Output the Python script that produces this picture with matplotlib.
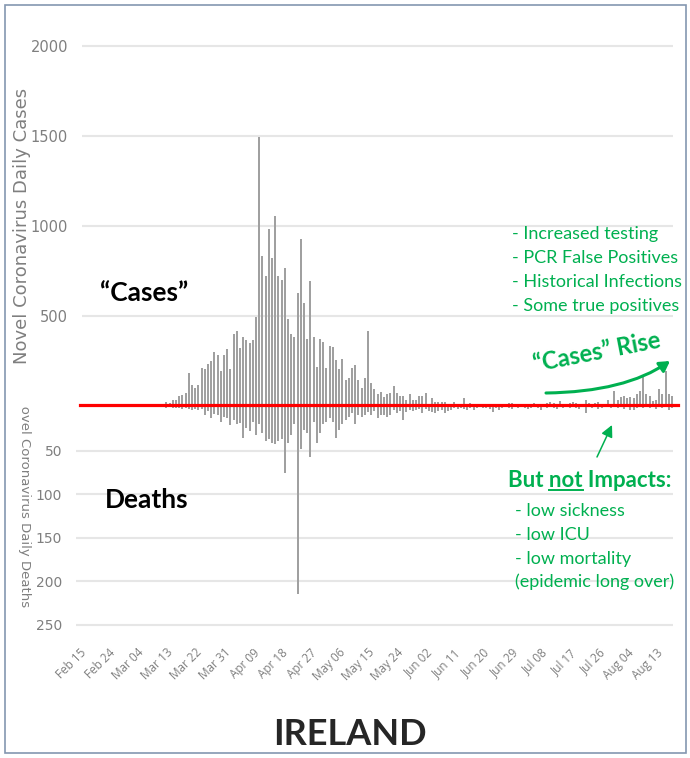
import datetime as dt
import matplotlib
matplotlib.use("Agg")
import matplotlib.pyplot as plt
from matplotlib.transforms import Affine2D, Bbox, TransformedBbox
from matplotlib.patches import FancyArrowPatch, Rectangle
from matplotlib.path import Path
from matplotlib.lines import Line2D

# ---------------- data ----------------
axis_start = "2020-02-15"
series_start = "2020-03-13"

cases = [21, 15, 34, 34, 53, 62, 71, 184, 119, 101,
         119, 212, 203, 231, 249, 299, 286, 197, 286, 318,
         203, 401, 419, 323, 382, 364, 351, 364, 493, 1497,
         832, 721, 982, 823, 1056, 721, 701, 768, 481, 401,
         382, 627, 927, 571, 371, 692, 382, 216, 372, 354,
         213, 336, 327, 258, 203, 262, 142, 157, 212, 230,
         142, 101, 157, 419, 129, 92, 64, 80, 50, 66,
         75, 112, 74, 54, 54, 35, 64, 35, 35, 54,
         54, 72, 10, 45, 24, 20, 20, 20, 6, 8,
         20, 6, 8, 45, 12, 16, 8, 10, 6, 9,
         10, 10, 6, 8, 9, 5, 8, 18, 18, 8,
         6, 9, 7, 10, 8, 18, 9, 7, 10, 18,
         21, 18, 9, 27, 10, 8, 18, 21, 18, 9,
         10, 34, 18, 8, 18, 25, 9, 11, 34, 10,
         82, 36, 49, 53, 45, 49, 45, 68, 86, 169,
         64, 58, 27, 36, 92, 64, 192, 64, 58]

deaths = [1, 0, 1, 1, 1, 2, 1, 2, 3, 2,
          3, 2, 9, 5, 13, 8, 9, 17, 11, 13,
          21, 15, 19, 18, 36, 24, 27, 17, 32, 20,
          30, 39, 37, 41, 43, 39, 37, 76, 41, 32,
          20, 214, 48, 26, 30, 57, 17, 41, 30, 20,
          17, 13, 17, 36, 26, 20, 15, 11, 7, 19,
          9, 11, 9, 6, 9, 5, 13, 9, 9, 11,
          9, 4, 7, 5, 15, 6, 3, 5, 4, 2,
          7, 2, 5, 6, 7, 5, 3, 7, 5, 3,
          1, 2, 1, 2, 3, 1, 3, 1, 0, 1,
          1, 2, 6, 1, 4, 1, 0, 1, 2, 0,
          1, 0, 1, 2, 1, 0, 1, 4, 0, 1,
          0, 1, 2, 0, 1, 0, 1, 0, 1, 2,
          0, 7, 0, 1, 0, 2, 1, 0, 0, 1,
          0, 1, 0, 2, 0, 4, 4, 1, 0, 1,
          0, 1, 0, 2, 0, 1, 0, 3, 1]

tick_labels = ["Feb 15", "Feb 24", "Mar 04", "Mar 13", "Mar 22", "Mar 31",
               "Apr 09", "Apr 18", "Apr 27", "May 06", "May 15", "May 24",
               "Jun 02", "Jun 11", "Jun 20", "Jun 29", "Jul 08", "Jul 17",
               "Jul 26", "Aug 04", "Aug 13"]
case_ticks = [500, 1000, 1500, 2000]
death_ticks = [50, 100, 150, 200, 250]

list_top = ["- Increased testing", "- PCR False Positives",
            "- Historical Infections", "- Some true positives"]
list_bottom = ["- low sickness", "- low ICU", "- low mortality",
               "(epidemic long over)"]

# ---------------- helpers ----------------
W, H = 690, 758
fig = plt.figure(figsize=(W / 100, H / 100), dpi=100)
fig.patch.set_facecolor("white")
PX = Affine2D().scale(1 / W, -1 / H).translate(0, 1) + fig.transFigure


def rect(l, t, r, b):
    return [l / W, 1 - b / H, (r - l) / W, (b - t) / H]


d0 = dt.date.fromisoformat(axis_start)
s0 = (dt.date.fromisoformat(series_start) - d0).days
xs = [s0 + i for i in range(len(cases))]
tick_pos = [(dt.datetime.strptime(t + " 2020", "%b %d %Y").date() - d0).days
            for t in tick_labels]

X0, SX = 80.0, 3.2      # pixel of day 0, pixels per day
CY = 0.18               # px per case
DY = 0.872              # px per death

BAR = "#a0a0a0"
GRID = "#e6e6e6"
GRAY = "#7f7f7f"
GREEN = "#00b050"
ANN = ["Lato", "DejaVu Sans"]
NARROW = ["Liberation Sans Narrow", "DejaVu Sans"]

# ---------------- cases axes ----------------
c_top, c_bot, c_l, c_r = 38, 406, 82, 673
axc = fig.add_axes(rect(c_l, c_top, c_r, c_bot))
axc.bar(xs, cases, width=0.65, color=BAR, zorder=2)
axc.set_xlim((c_l - X0) / SX, (c_r - X0) / SX)
axc.set_ylim(0, (c_bot - c_top) / CY)
axc.set_yticks(case_ticks)
axc.set_yticklabels([str(v) for v in case_ticks], family=NARROW,
                    fontsize=10.5, color=GRAY)
axc.set_xticks([])
axc.grid(axis="y", color=GRID, linewidth=1.5, zorder=0)
axc.tick_params(axis="y", length=0, pad=10)
for s in axc.spines.values():
    s.set_visible(False)
axc.set_facecolor("none")

# ---------------- deaths axes ----------------
d_top, d_bot, d_l, d_r = 407, 642, 76, 673
axd = fig.add_axes(rect(d_l, d_top, d_r, d_bot))
axd.bar(xs, deaths, width=0.65, color=BAR, zorder=2)
axd.set_xlim((d_l - X0) / SX, (d_r - X0) / SX)
axd.set_ylim((d_bot - d_top) / DY, 0)
axd.set_yticks(death_ticks)
axd.set_yticklabels([str(v) for v in death_ticks], family=NARROW,
                    fontsize=10, color=GRAY)
axd.set_xticks(tick_pos)
axd.set_xticklabels(tick_labels, rotation=45, ha="right", va="top",
                    rotation_mode="anchor", fontsize=8.5, color=GRAY,
                    family=["Open Sans", "DejaVu Sans"])
axd.grid(axis="y", color=GRID, linewidth=1.5, zorder=0)
axd.tick_params(axis="y", length=0, pad=10)
axd.tick_params(axis="x", length=0, pad=3)
for s in axd.spines.values():
    s.set_visible(False)
axd.set_facecolor("none")

# ---------------- red zero line ----------------
fig.add_artist(Line2D([80, 678], [405, 405], transform=PX,
                      color="#ff0000", linewidth=2.3, zorder=5))

# ---------------- axis titles ----------------
fig.text(22, 226, "Novel Coronavirus Daily Cases", transform=PX,
         rotation=90, ha="center", va="center", fontsize=13, color=GRAY,
         family=["DejaVu Sans"])
td = fig.text(24, 607, "Novel Coronavirus Daily Deaths", transform=PX,
              rotation=270, rotation_mode="anchor", ha="right", va="center",
              fontsize=9.5, color=GRAY, family=["DejaVu Sans"])
td.set_clip_box(TransformedBbox(Bbox([[0, 0], [1, (H - 406) / H]]),
                                fig.transFigure))
td.set_clip_on(True)

# ---------------- annotations ----------------
fig.text(100, 301, "\u201cCases\u201d", transform=PX, ha="left",
         va="baseline", fontsize=19, fontweight="bold", color="black",
         family=ANN)
fig.text(105, 508, "Deaths", transform=PX, ha="left", va="baseline",
         fontsize=19, fontweight="bold", color="black", family=ANN)

for txt, yb in zip(list_top, [238.5, 262.7, 286.7, 311]):
    fig.text(512, yb, txt, transform=PX, ha="left", va="baseline",
             fontsize=13, color=GREEN, family=ANN)

fig.text(597, 352, "\u201cCases\u201d Rise", transform=PX, ha="center",
         va="center", rotation=11, rotation_mode="anchor", fontsize=17,
         fontweight="bold", color=GREEN, family=ANN)

curve = Path([(546, 393), (625, 392), (670, 361)],
             [Path.MOVETO, Path.CURVE3, Path.CURVE3])
fig.add_artist(FancyArrowPatch(path=curve, transform=PX,
                               arrowstyle="-|>,head_length=6,head_width=3.5",
                               color=GREEN, linewidth=2.2, zorder=6))
fig.add_artist(FancyArrowPatch((597, 457), (612, 425), transform=PX,
                               arrowstyle="-|>,head_length=7,head_width=3.5",
                               color=GREEN, linewidth=1.1, zorder=6,
                               shrinkA=0, shrinkB=0))

bx, by = 508, 487
fig.text(bx, by, "But not Impacts:", transform=PX, ha="left",
         va="baseline", fontsize=16, fontweight="bold", color=GREEN,
         family=ANN)
r = fig.canvas.get_renderer()
tmp1 = fig.text(0, 0, "But not", fontsize=16, fontweight="bold", family=ANN)
tmp2 = fig.text(0, 0, "not", fontsize=16, fontweight="bold", family=ANN)
w_bn = tmp1.get_window_extent(r).width
w_n = tmp2.get_window_extent(r).width
tmp1.remove()
tmp2.remove()
fig.add_artist(Line2D([bx + w_bn - w_n, bx + w_bn], [by + 3, by + 3],
                      transform=PX, color=GREEN, linewidth=1.4))

for txt, yb in zip(list_bottom, [516, 540.5, 564, 587]):
    fig.text(515, yb, txt, transform=PX, ha="left", va="baseline",
             fontsize=13, color=GREEN, family=ANN)

fig.text(350, 745, "IRELAND", transform=PX, ha="center", va="baseline",
         fontsize=26, fontweight="bold", color="#262626", family=ANN)

# ---------------- frame ----------------
fig.add_artist(Rectangle((5, 5), 681, 748, transform=PX, fill=False,
                         edgecolor="#8497b0", linewidth=1.2, zorder=10))

fig.savefig("out.png", dpi=100, facecolor="white")
